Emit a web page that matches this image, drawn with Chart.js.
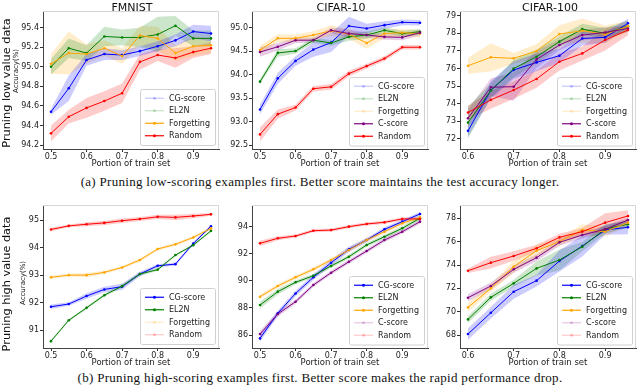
<!DOCTYPE html>
<html>
<head>
<meta charset="utf-8">
<script src="https://cdn.jsdelivr.net/npm/chart.js@4/dist/chart.umd.min.js"></script>
<style>
	body { margin: 0; background: #fff; }
	#wrap { position: relative; width: 640px; height: 386px; overflow: hidden; font-family: 'DejaVu Sans'; color: #111; }
	canvas { position: absolute; }
	.txt { position: absolute; white-space: nowrap; transform: translate(-50%, -50%); }
	.rot { transform: translate(-50%, -50%) rotate(-90deg); }
	.cap { font-family: 'Liberation Serif'; font-size: 13px; letter-spacing: 0.3px; }
</style>
</head>
<body>
<div id="wrap">
	<canvas id="c1" width="222" height="169" style="left:1px;top:0px"></canvas>
	<canvas id="c2" width="222" height="169" style="left:210px;top:0px"></canvas>
	<canvas id="c3" width="222" height="169" style="left:418px;top:0px"></canvas>
	<canvas id="c4" width="222" height="178" style="left:1px;top:190px"></canvas>
	<canvas id="c5" width="222" height="178" style="left:210px;top:190px"></canvas>
	<canvas id="c6" width="222" height="178" style="left:418px;top:190px"></canvas>

	<div class="txt" style="left:132px;top:7px;font-size:11px">FMNIST</div>
	<div class="txt" style="left:341px;top:7px;font-size:11px">CIFAR-10</div>
	<div class="txt" style="left:550px;top:7px;font-size:11px">CIFAR-100</div>
	<div class="txt rot" style="left:6px;top:83px;font-size:11.3px">Pruning low value data</div>
	<div class="txt rot" style="left:6px;top:284px;font-size:11.3px">Pruning high value data</div>
	<div class="txt rot" style="left:16px;top:71px;font-size:7px">Accuracy(%)</div>
	<div class="txt rot" style="left:23px;top:283px;font-size:7px">Accuracy(%)</div>
	<div class="txt cap" style="left:320px;top:182px">(a) Pruning low-scoring examples first. Better score maintains the test accuracy longer.</div>
	<div class="txt cap" style="left:320px;top:378px">(b) Pruning high-scoring examples first. Better score makes the rapid performance drop.</div>
</div>
<script>
// portions of the train set
const xFull = [0.5, 0.55, 0.6, 0.65, 0.7, 0.75, 0.8, 0.85, 0.9, 0.95];
const xC100 = [0.6, 0.65, 0.7, 0.75, 0.8, 0.85, 0.9, 0.95];
const xTicksFull = [0.5, 0.6, 0.7, 0.8, 0.9];
const xTicksC100 = [0.6, 0.7, 0.8, 0.9];

// y tick labels
const yTicksLowFm = [94.2, 94.4, 94.6, 94.8, 95.0, 95.2, 95.4];
const yTicksLowC10 = [92.5, 93.0, 93.5, 94.0, 94.5, 95.0];
const yTicksLowC100 = [72, 73, 74, 75, 76, 77, 78, 79];
const yTicksHighFm = [91, 92, 93, 94, 95];
const yTicksHighC10 = [86, 88, 90, 92, 94];
const yTicksHighC100 = [68, 70, 72, 74, 76, 78];

// (a) pruning low value data - FMNIST
const lowFmCg = [94.54, 94.78, 95.07, 95.13, 95.12, 95.16, 95.21, 95.27, 95.36, 95.34];
const lowFmCgErr = [0.03, 0.13, 0.06, 0.06, 0.05, 0.05, 0.05, 0.06, 0.07, 0.08];
const lowFmEl2n = [95.0, 95.19, 95.14, 95.31, 95.3, 95.3, 95.33, 95.42, 95.29, 95.29];
const lowFmEl2nErr = [0.08, 0.1, 0.08, 0.1, 0.08, 0.1, 0.18, 0.1, 0.08, 0.08];
const lowFmForg = [95.03, 95.14, 95.13, 95.19, 95.11, 95.32, 95.29, 95.14, 95.21, 95.22];
const lowFmForgErr = [0.1, 0.22, 0.1, 0.08, 0.08, 0.1, 0.12, 0.08, 0.1, 0.08];
const lowFmRand = [94.32, 94.49, 94.58, 94.65, 94.73, 95.05, 95.12, 95.09, 95.15, 95.19];
const lowFmRandErr = [0.08, 0.07, 0.1, 0.1, 0.1, 0.08, 0.06, 0.1, 0.06, 0.06];

// (a) CIFAR-10
const lowC10Cg = [93.26, 93.92, 94.29, 94.53, 94.68, 95.03, 94.98, 95.05, 95.11, 95.1];
const lowC10CgErr = [0.1, 0.12, 0.1, 0.15, 0.2, 0.2, 0.1, 0.08, 0.06, 0.06];
const lowC10El2n = [93.85, 94.46, 94.5, 94.73, 94.67, 94.8, 94.84, 94.94, 94.87, 94.91];
const lowC10El2nErr = [0.05, 0.08, 0.06, 0.06, 0.06, 0.08, 0.08, 0.06, 0.06, 0.06];
const lowC10Forg = [94.52, 94.77, 94.77, 94.84, 94.93, 94.86, 94.67, 94.87, 94.89, 94.87];
const lowC10ForgErr = [0.1, 0.08, 0.08, 0.08, 0.12, 0.1, 0.12, 0.1, 0.08, 0.08];
const lowC10Cs = [94.48, 94.59, 94.73, 94.73, 94.94, 94.87, 94.84, 94.8, 94.79, 94.89];
const lowC10CsErr = [0.1, 0.08, 0.06, 0.06, 0.06, 0.08, 0.06, 0.06, 0.06, 0.06];
const lowC10Rand = [92.73, 93.16, 93.3, 93.7, 93.74, 94.02, 94.18, 94.34, 94.58, 94.58];
const lowC10RandErr = [0.15, 0.1, 0.06, 0.06, 0.06, 0.06, 0.05, 0.05, 0.05, 0.05];

// (a) CIFAR-100
const lowC100Cg = [72.46, 74.78, 75.92, 76.35, 76.73, 77.71, 77.77, 78.57];
const lowC100CgErr = [0.3, 0.5, 0.5, 0.5, 0.4, 0.4, 0.3, 0.25];
const lowC100El2n = [72.93, 74.75, 76.0, 76.67, 77.53, 78.24, 78.0, 78.41];
const lowC100El2nErr = [0.9, 0.4, 0.5, 0.4, 0.3, 0.3, 0.3, 0.3];
const lowC100Forg = [76.16, 76.64, 76.58, 77.0, 77.96, 78.15, 77.94, 78.41];
const lowC100ForgErr = [0.45, 0.8, 0.3, 0.4, 0.5, 0.7, 0.5, 0.3];
const lowC100Cs = [73.18, 74.94, 74.97, 76.52, 77.34, 77.9, 78.05, 78.28];
const lowC100CsErr = [0.5, 0.5, 0.8, 0.5, 0.3, 0.3, 0.3, 0.2];
const lowC100Rand = [73.5, 74.22, 74.78, 75.41, 76.39, 76.86, 77.62, 78.19];
const lowC100RandErr = [0.4, 0.5, 0.5, 0.5, 0.5, 0.4, 0.6, 0.3];

// (b) pruning high value data - FMNIST
const highFmCg = [91.85, 91.95, 92.24, 92.48, 92.58, 93.04, 93.34, 93.4, 94.15, 94.78];
const highFmCgErr = [0.08, 0.06, 0.1, 0.1, 0.12, 0.08, 0.06, 0.05, 0.05, 0.05];
const highFmEl2n = [90.6, 91.36, 91.81, 92.27, 92.6, 93.04, 93.2, 93.73, 94.09, 94.61];
const highFmEl2nErr = [0.03, 0.04, 0.05, 0.06, 0.06, 0.06, 0.05, 0.04, 0.04, 0.04];
const highFmForg = [92.92, 93.0, 93.0, 93.1, 93.28, 93.55, 93.95, 94.12, 94.37, 94.7];
const highFmForgErr = [0.06, 0.05, 0.08, 0.06, 0.05, 0.06, 0.05, 0.06, 0.05, 0.05];
const highFmRand = [94.66, 94.79, 94.85, 94.9, 94.98, 95.04, 95.12, 95.1, 95.15, 95.21];
const highFmRandErr = [0.06, 0.05, 0.07, 0.08, 0.08, 0.07, 0.08, 0.1, 0.08, 0.05];

// (b) CIFAR-10
const highC10Cg = [85.75, 87.6, 89.07, 90.26, 91.34, 92.33, 93.01, 93.8, 94.37, 94.94];
const highC10CgErr = [0.25, 0.2, 0.2, 0.2, 0.2, 0.2, 0.15, 0.15, 0.15, 0.15];
const highC10El2n = [88.21, 89.2, 89.89, 90.38, 91.1, 91.78, 92.65, 93.26, 93.88, 94.62];
const highC10El2nErr = [0.25, 0.2, 0.15, 0.15, 0.15, 0.15, 0.15, 0.15, 0.15, 0.15];
const highC10Forg = [88.83, 89.62, 90.26, 90.85, 91.54, 92.28, 93.01, 93.63, 94.25, 94.69];
const highC10ForgErr = [0.15, 0.15, 0.15, 0.15, 0.15, 0.15, 0.15, 0.15, 0.15, 0.15];
const highC10Cs = [86.07, 87.55, 88.46, 89.69, 90.6, 91.41, 92.2, 93.01, 93.63, 94.37];
const highC10CsErr = [0.25, 0.2, 0.15, 0.15, 0.15, 0.15, 0.15, 0.15, 0.15, 0.15];
const highC10Rand = [92.77, 93.14, 93.31, 93.7, 93.75, 94.0, 94.2, 94.32, 94.57, 94.57];
const highC10RandErr = [0.2, 0.15, 0.12, 0.12, 0.12, 0.12, 0.12, 0.12, 0.12, 0.12];

// (b) CIFAR-100
const highC100Cg = [68.09, 69.91, 71.71, 72.66, 74.34, 75.63, 77.0, 77.23];
const highC100CgErr = [0.5, 0.5, 0.6, 0.5, 0.9, 0.9, 0.4, 0.6];
const highC100El2n = [69.34, 71.23, 72.43, 73.71, 74.43, 75.57, 77.09, 77.49];
const highC100El2nErr = [0.3, 0.3, 0.3, 0.6, 0.9, 0.4, 0.4, 0.3];
const highC100Forg = [70.37, 72.0, 73.86, 75.23, 76.0, 77.0, 76.86, 77.63];
const highC100ForgErr = [0.4, 0.3, 0.5, 0.5, 0.3, 0.5, 0.4, 0.3];
const highC100Cs = [71.2, 72.2, 73.63, 74.63, 75.94, 76.57, 77.06, 77.86];
const highC100CsErr = [0.3, 0.3, 0.3, 0.3, 0.3, 0.3, 0.3, 0.2];
const highC100Rand = [73.51, 74.2, 74.77, 75.43, 76.37, 76.86, 77.63, 78.2];
const highC100RandErr = [0.2, 0.5, 0.4, 0.3, 0.3, 0.3, 0.8, 0.5];

const colors = {
	'CG-score': [0, 0, 255],
	'EL2N': [0, 128, 0],
	'Forgetting': [255, 165, 0],
	'C-score': [128, 0, 128],
	'Random': [255, 0, 0],
};
const rgba = (name, a) => 'rgba(' + colors[name].join(',') + ',' + a + ')';

function s(name, vals, err, faded) {
	return { name: name, vals: vals, err: err, faded: !!faded };
}

const panels = [
	{ id: 'c1', xs: xFull, xTicks: xTicksFull, xMin: 0.4775, xMax: 0.9725, yTicks: yTicksLowFm, yDec: 1, yMin: 94.16, yMax: 95.57, padTop: 11,
		series: [s('CG-score', lowFmCg, lowFmCgErr, 1), s('EL2N', lowFmEl2n, lowFmEl2nErr, 1), s('Forgetting', lowFmForg, lowFmForgErr), s('Random', lowFmRand, lowFmRandErr)] },
	{ id: 'c2', xs: xFull, xTicks: xTicksFull, xMin: 0.4775, xMax: 0.9725, yTicks: yTicksLowC10, yDec: 1, yMin: 92.42, yMax: 95.35, padTop: 11,
		series: [s('CG-score', lowC10Cg, lowC10CgErr, 1), s('EL2N', lowC10El2n, lowC10El2nErr, 1), s('Forgetting', lowC10Forg, lowC10ForgErr, 1), s('C-score', lowC10Cs, lowC10CsErr), s('Random', lowC10Rand, lowC10RandErr)] },
	{ id: 'c3', xs: xC100, xTicks: xTicksC100, xMin: 0.5825, xMax: 0.9675, yTicks: yTicksLowC100, yDec: 0, yMin: 71.43, yMax: 79.27, padTop: 11,
		series: [s('CG-score', lowC100Cg, lowC100CgErr, 1), s('EL2N', lowC100El2n, lowC100El2nErr, 1), s('Forgetting', lowC100Forg, lowC100ForgErr, 1), s('C-score', lowC100Cs, lowC100CsErr), s('Random', lowC100Rand, lowC100RandErr)] },
	{ id: 'c4', xs: xFull, xTicks: xTicksFull, xMin: 0.4775, xMax: 0.9725, yTicks: yTicksHighFm, yDec: 0, yMin: 90.35, yMax: 95.55, padTop: 15,
		series: [s('CG-score', highFmCg, highFmCgErr), s('EL2N', highFmEl2n, highFmEl2nErr), s('Forgetting', highFmForg, highFmForgErr, 1), s('Random', highFmRand, highFmRandErr, 1)] },
	{ id: 'c5', xs: xFull, xTicks: xTicksFull, xMin: 0.4775, xMax: 0.9725, yTicks: yTicksHighC10, yDec: 0, yMin: 85.04, yMax: 95.6, padTop: 15,
		series: [s('CG-score', highC10Cg, highC10CgErr), s('EL2N', highC10El2n, highC10El2nErr), s('Forgetting', highC10Forg, highC10ForgErr), s('C-score', highC10Cs, highC10CsErr, 1), s('Random', highC10Rand, highC10RandErr, 1)] },
	{ id: 'c6', xs: xC100, xTicks: xTicksC100, xMin: 0.5825, xMax: 0.9675, yTicks: yTicksHighC100, yDec: 0, yMin: 66.89, yMax: 79.14, padTop: 15,
		series: [s('CG-score', highC100Cg, highC100CgErr), s('EL2N', highC100El2n, highC100El2nErr), s('Forgetting', highC100Forg, highC100ForgErr), s('C-score', highC100Cs, highC100CsErr, 1), s('Random', highC100Rand, highC100RandErr, 1)] },
];

// light top/right frame plus a matplotlib-like legend in the lower right corner
const boxLegend = {
	id: 'boxLegend',
	afterDraw(chart, args, opts) {
		let ctx = chart.ctx, a = chart.chartArea;
		ctx.save();
		ctx.strokeStyle = '#d6d6d6';
		ctx.lineWidth = 1;
		ctx.beginPath();
		ctx.moveTo(a.left, a.top + 0.5);
		ctx.lineTo(a.right - 0.5, a.top + 0.5);
		ctx.lineTo(a.right - 0.5, a.bottom);
		ctx.stroke();

		ctx.font = '8px "DejaVu Sans"';
		let items = opts.items;
		let w = Math.max(...items.map(it => ctx.measureText(it.name).width)) + 34;
		let rowH = 12.5, h = items.length * rowH + 6;
		let x0 = Math.round(a.right - 4 - w), y0 = Math.round(a.bottom - 4 - h);
		ctx.fillStyle = 'rgba(255,255,255,0.8)';
		ctx.strokeStyle = '#d0d0d0';
		ctx.beginPath();
		if (ctx.roundRect) ctx.roundRect(x0 + 0.5, y0 + 0.5, w, h, 2);
		else ctx.rect(x0 + 0.5, y0 + 0.5, w, h);
		ctx.fill();
		ctx.stroke();
		items.forEach((it, i) => {
			let cy = y0 + 3 + rowH * (i + 0.5);
			ctx.globalAlpha = it.faded ? 0.22 : 1;
			ctx.strokeStyle = rgba(it.name, 1);
			ctx.fillStyle = rgba(it.name, 1);
			ctx.lineWidth = 1.2;
			ctx.beginPath();
			ctx.moveTo(x0 + 5, cy);
			ctx.lineTo(x0 + 24, cy);
			ctx.stroke();
			ctx.beginPath();
			ctx.arc(x0 + 14.5, cy, 1.5, 0, Math.PI * 2);
			ctx.fill();
			ctx.globalAlpha = 1;
			ctx.fillStyle = '#222';
			ctx.textBaseline = 'middle';
			ctx.fillText(it.name, x0 + 29, cy + 0.5);
		});
		ctx.restore();
	},
};

Chart.defaults.font.family = 'DejaVu Sans';
Chart.defaults.font.size = 8;
Chart.defaults.color = '#222';

function buildPanel(p) {
	let lines = [], bands = [];
	p.series.forEach(se => {
		lines.unshift({
			label: se.name,
			data: se.vals.map((v, i) => ({ x: p.xs[i], y: v })),
			borderColor: rgba(se.name, 1),
			backgroundColor: rgba(se.name, 1),
			borderWidth: 1,
			pointRadius: 1.3,
			pointBorderWidth: 0,
			fill: false,
			tension: 0,
		});
		bands.push({
			label: se.name + ' hi',
			data: se.vals.map((v, i) => ({ x: p.xs[i], y: v + se.err[i] })),
			borderWidth: 0,
			pointRadius: 0,
			fill: false,
		});
		bands.push({
			label: se.name + ' lo',
			data: se.vals.map((v, i) => ({ x: p.xs[i], y: v - se.err[i] })),
			borderWidth: 0,
			pointRadius: 0,
			fill: '-1',
			backgroundColor: rgba(se.name, 0.2),
		});
	});

	return new Chart(document.getElementById(p.id), {
		type: 'line',
		data: { datasets: lines.concat(bands) },
		plugins: [boxLegend],
		options: {
			responsive: false,
			animation: false,
			layout: { padding: { top: p.padTop, right: 1, left: 0, bottom: 0 } },
			plugins: {
				legend: { display: false },
				tooltip: { enabled: false },
				boxLegend: { items: p.series },
			},
			scales: {
				x: {
					type: 'linear',
					min: p.xMin,
					max: p.xMax,
					afterBuildTicks: sc => { sc.ticks = p.xTicks.map(v => ({ value: v })); },
					afterFit: sc => { sc.height = 20; },
					grid: { drawOnChartArea: false, tickLength: 3, tickColor: '#333' },
					border: { color: '#444' },
					ticks: { padding: 0, maxRotation: 0, autoSkip: false, callback: v => v.toFixed(1) },
					title: { display: true, text: 'Portion of train set', font: { size: 8.5 }, padding: 0 },
				},
				y: {
					min: p.yMin,
					max: p.yMax,
					afterBuildTicks: sc => { sc.ticks = p.yTicks.map(v => ({ value: v })); },
					afterFit: sc => { sc.width = 42; },
					grid: { drawOnChartArea: false, tickLength: 3, tickColor: '#333' },
					border: { color: '#444' },
					ticks: { padding: 1, autoSkip: false, callback: v => v.toFixed(p.yDec) },
				},
			},
		},
	});
}

panels.forEach(buildPanel);
</script>
</body>
</html>
